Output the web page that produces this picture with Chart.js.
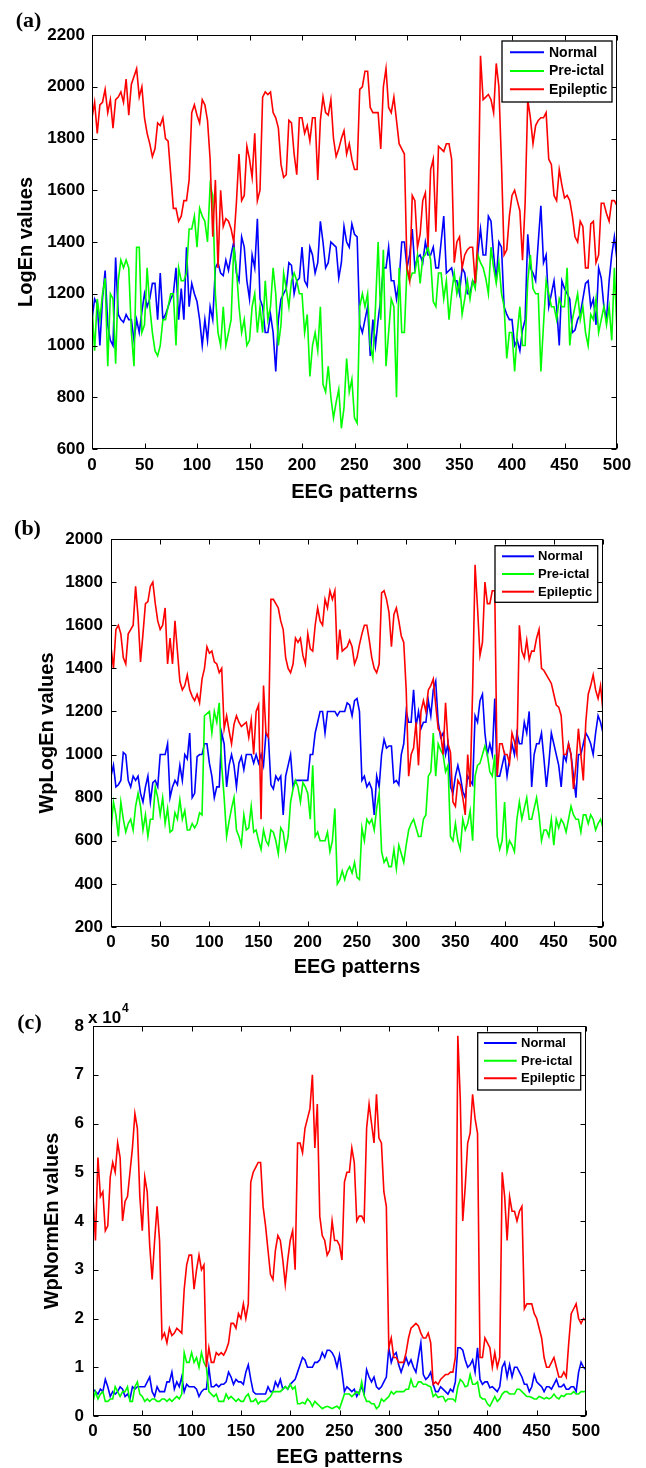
<!DOCTYPE html>
<html><head><meta charset="utf-8">
<script src="https://cdn.jsdelivr.net/npm/chart.js@4.4.0/dist/chart.umd.min.js"></script>
<style>
html,body{margin:0;padding:0;background:#fff;}
body{width:646px;height:1468px;position:relative;overflow:hidden;}
.p{position:absolute;left:0;width:646px;}
canvas{display:block;}
</style></head><body>
<div class="p" style="top:0;height:505px"><canvas id="ca" width="646" height="505"></canvas></div>
<div class="p" style="top:505px;height:480px"><canvas id="cb" width="646" height="480"></canvas></div>
<div class="p" style="top:985px;height:483px"><canvas id="cc" width="646" height="483"></canvas></div>
<script>
// ---------- DATA ----------
const eegPatterns = [0,2.5,5,7.5,10,12.5,15,17.5,20,22.5,25,27.5,30,32.5,35,37.5,40,42.5,45,47.5,
50,52.5,55,57.5,60,62.5,65,67.5,70,72.5,75,77.5,80,82.5,85,87.5,90,92.5,95,97.5,
100,102.5,105,107.5,110,112.5,115,117.5,120,122.5,125,127.5,130,132.5,135,137.5,140,142.5,145,147.5,
150,152.5,155,157.5,160,162.5,165,167.5,170,172.5,175,177.5,180,182.5,185,187.5,190,192.5,195,197.5,
200,202.5,205,207.5,210,212.5,215,217.5,220,222.5,225,227.5,230,232.5,235,237.5,240,242.5,245,247.5,
250,252.5,255,257.5,260,262.5,265,267.5,270,272.5,275,277.5,280,282.5,285,287.5,290,292.5,295,297.5,
300,302.5,305,307.5,310,312.5,315,317.5,320,322.5,325,327.5,330,332.5,335,337.5,340,342.5,345,347.5,
350,352.5,355,357.5,360,362.5,365,367.5,370,372.5,375,377.5,380,382.5,385,387.5,390,392.5,395,397.5,
400,402.5,405,407.5,410,412.5,415,417.5,420,422.5,425,427.5,430,432.5,435,437.5,440,442.5,445,447.5,
450,452.5,455,457.5,460,462.5,465,467.5,470,472.5,475,477.5,480,482.5,485,487.5,490,492.5,495,497.5,
500];
const seriesNames = ['Normal','Pre-ictal','Epileptic'];
const xTicks = [0,50,100,150,200,250,300,350,400,450,500];

// (a) LogEn values
const logEnNormal = [1100,1180,1160,1000,1180,1290,1080,1020,1000,1340,1120,1100,1090,1120,1100,1100,1020,1100,1050,1130,
1200,1150,1180,1240,1240,1100,1280,1100,1120,1150,1180,1200,1300,1100,1220,1100,1380,1150,1240,1200,
1170,1100,1000,1100,1020,1150,1100,1300,1320,1280,1270,1330,1290,1350,1400,1280,1250,1420,1380,1250,
1180,1350,1300,1490,1180,1150,1050,1050,1120,1050,900,1100,1180,1200,1220,1320,1310,1200,1250,1260,
1380,1250,1230,1380,1350,1280,1320,1480,1400,1300,1320,1400,1390,1380,1260,1320,1460,1400,1380,1470,
1430,1420,1080,1050,1100,1150,960,1100,1000,1100,1180,1300,1300,1380,1250,1250,1180,1250,1400,1400,
1300,1350,1450,1300,1340,1350,1320,1400,1350,1350,1380,1300,1300,1400,1500,1280,1290,1300,1250,1250,
1200,1300,1280,1200,1200,1250,1240,1360,1450,1350,1350,1500,1480,1350,1250,1400,1380,1150,1120,1100,
1100,1000,1020,980,1060,1100,1430,1300,1280,1250,1400,1540,1320,1350,1150,1200,1250,1150,1000,1250,
1220,1200,1180,1050,1060,1100,1120,1180,1240,1250,1150,1180,1080,1300,1260,1150,1100,1250,1350,1420,
1330];
const logEnPreictal = [1150,980,1180,1100,1200,1260,920,1200,1180,930,1250,1330,1300,1330,1300,1050,920,1380,1380,1050,
1080,1300,1150,1050,980,960,1000,1100,1100,1150,1200,1200,1000,1300,1250,1250,1280,1450,1450,1500,
1380,1530,1500,1480,1400,1620,1580,1200,1050,1000,1150,1000,1050,1100,1380,1300,1150,1050,1100,1000,
1020,1150,1200,1050,1150,1050,1250,1100,1150,1300,1200,1000,1080,1280,1220,1150,1250,1280,1250,1200,
1200,1050,1120,880,1000,1050,980,1150,850,820,920,800,720,780,830,680,760,950,820,870,
720,700,1150,1200,1150,1200,1000,950,1150,1400,1100,1370,920,1050,1180,1150,800,1300,1050,1050,
1300,1250,1280,1280,1350,1240,1340,1350,1380,1330,1170,1150,1280,1280,1180,1250,1100,1200,1280,1200,
1250,1120,1180,1250,1180,1250,1220,1350,1320,1300,1260,1200,1380,1300,1240,1320,1200,1150,950,1050,
1050,900,1050,1150,1000,1000,1250,1350,1220,1200,1200,900,1080,1250,1200,1150,1150,1100,1180,1150,
1150,1300,1000,1100,1150,1200,1100,1150,1050,1000,1120,1100,1180,1050,1100,1150,1080,1150,1020,1300,
1050];
const logEnEpileptic = [1880,1940,1820,1930,1940,1990,1900,1950,1840,1950,1960,1980,1940,2030,1890,2010,2040,2070,1960,2000,
1880,1820,1780,1730,1760,1860,1850,1880,1800,1790,1660,1530,1530,1480,1500,1560,1560,1640,1900,1930,
1890,1860,1950,1930,1870,1720,1420,1640,1300,1600,1460,1490,1480,1450,1400,1550,1740,1560,1580,1770,
1720,1650,1820,1560,1600,1960,1980,1970,1980,1900,1880,1840,1700,1650,1660,1870,1860,1740,1660,1880,
1880,1820,1850,1790,1880,1880,1640,1870,1960,1900,1890,1950,1800,1730,1760,1800,1830,1740,1780,1720,
1680,1680,1990,2000,2060,2060,1920,1900,1900,1900,1760,2000,2070,1920,1900,1960,1870,1780,1760,1740,
1300,1250,1580,1560,1380,1430,1560,1590,1380,1680,1720,1440,1770,1760,1750,1780,1780,1720,1320,1400,
1420,1300,1350,1370,1380,1380,1240,1420,2120,1950,1960,1970,1950,1900,2090,2000,1700,1350,1370,1500,
1580,1600,1560,1520,1330,1550,1950,1880,1780,1850,1870,1880,1880,1900,1720,1700,1580,1560,1680,1620,
1570,1580,1560,1500,1420,1400,1480,1460,1300,1300,1470,1480,1320,1350,1550,1550,1510,1480,1560,1560,
1540];
const logEnYTicks = [600,800,1000,1200,1400,1600,1800,2000,2200];

// (b) WpLogEn values
const wpLogEnNormal = [900,950,850,860,880,1010,1000,880,850,900,880,900,820,780,850,900,780,870,880,850,
1000,1000,1000,1050,800,850,880,860,950,880,1000,980,1100,800,820,990,1000,1000,1050,1050,
960,900,800,850,850,1100,1050,850,950,1000,950,850,960,990,930,1000,1000,1000,960,1000,
960,1000,950,1100,1080,860,840,900,880,900,720,900,950,1000,850,880,880,880,880,880,
880,1000,1000,1100,1150,1200,1200,1100,1200,1200,1200,1200,1180,1200,1200,1200,1240,1230,1180,1250,
1260,1200,880,900,850,870,840,720,900,850,1000,1070,1030,1040,1040,870,880,860,1000,1050,
1200,1150,1150,1300,1130,1200,1120,1150,1150,1250,1180,1300,1340,1150,1080,1100,1000,1050,850,820,
900,950,900,830,800,900,880,860,1180,1150,1250,1280,1100,1000,1050,1000,1260,900,900,950,
1000,900,980,1050,1000,1100,1050,1050,1150,1100,1200,850,1000,1050,1050,1100,980,850,960,1100,
1050,1000,950,850,1000,970,1050,1000,900,800,1000,1000,1050,1100,1080,1050,1000,1100,1180,1150,
1100];
const wpLogEnPreictal = [650,780,720,620,780,700,640,680,700,650,760,820,760,650,720,620,700,700,850,800,
720,800,680,750,640,650,730,700,790,700,740,650,650,680,660,680,730,720,1180,1190,
1200,1100,1200,1150,1240,950,800,620,690,750,800,650,620,580,720,650,660,760,640,650,
600,560,650,600,580,650,640,600,540,660,640,560,620,780,840,880,850,780,870,850,
820,700,950,620,640,600,600,600,640,550,600,750,400,420,460,420,460,480,450,500,
430,420,660,600,700,680,700,650,750,820,550,500,520,480,480,560,470,580,540,500,
580,650,680,700,660,620,620,700,720,900,920,1100,900,1050,1020,1000,920,950,620,600,
680,600,560,700,650,680,740,600,900,950,960,1000,1040,1000,920,900,1000,620,560,600,
780,550,600,580,550,700,780,700,750,800,700,700,750,800,720,600,650,650,620,700,
580,700,660,700,680,640,700,760,720,700,700,640,720,720,680,720,700,650,680,700,
660];
const wpLogEnEpileptic = [1500,1400,1580,1600,1560,1450,1420,1560,1580,1600,1780,1640,1430,1560,1700,1710,1780,1800,1700,1620,
1580,1600,1680,1420,1540,1420,1620,1480,1340,1300,1320,1370,1300,1270,1250,1280,1240,1350,1400,1500,
1470,1480,1430,1420,1380,1400,1120,1180,1110,1050,1140,1180,1150,1130,1140,1150,1080,1160,1000,1200,
1230,700,1320,1100,1080,1720,1720,1700,1680,1620,1580,1450,1400,1380,1420,1540,1520,1540,1460,1420,
1560,1490,1480,1600,1680,1620,1600,1720,1680,1760,1720,1760,1440,1580,1480,1490,1500,1530,1500,1420,
1450,1510,1560,1600,1600,1530,1450,1400,1380,1420,1750,1760,1720,1660,1500,1650,1680,1620,1550,1520,
1300,900,1000,1030,1150,950,1200,1250,1200,1300,1320,1350,1230,1120,1100,1000,1240,1050,1010,780,
760,880,860,800,720,1000,850,1300,1880,1680,1460,1520,1800,1700,1700,1760,1760,900,1050,1050,
1000,1000,960,1100,1060,1000,1600,1480,1450,1530,1440,1480,1480,1540,1580,1400,1390,1370,1350,1330,
1280,1230,1220,1180,1000,1000,1050,1000,840,950,1120,1000,880,1150,1280,1320,1370,1300,1260,1320,
1200];
const wpLogEnYTicks = [200,400,600,800,1000,1200,1400,1600,1800,2000];

// (c) WpNormEn values, in units of 10^4 (as on the axis)
const wpNormEnNormal = [0.55,0.5,0.45,0.55,0.5,0.75,0.6,0.4,0.5,0.45,0.5,0.6,0.55,0.4,0.45,0.35,0.6,0.55,0.6,0.6,
0.6,0.6,0.7,0.8,0.5,0.4,0.6,0.5,0.5,0.5,0.7,0.7,0.9,0.55,0.7,0.6,0.8,0.5,0.65,0.6,
0.6,0.6,0.55,0.4,0.5,0.55,0.55,1.0,0.6,0.6,0.65,0.6,0.65,0.65,0.7,0.9,0.8,0.65,0.75,0.7,
0.7,0.65,0.9,1.05,0.75,0.5,0.45,0.45,0.45,0.45,0.45,0.6,0.5,0.5,0.7,0.6,0.75,0.55,0.6,0.55,
0.65,0.7,0.75,0.9,1.05,1.2,1.15,1.0,1.0,1.0,1.1,1.1,1.15,1.3,1.2,1.35,1.35,1.3,1.2,1.0,
1.25,0.9,0.5,0.6,0.55,0.5,0.55,0.4,0.5,0.6,0.45,0.95,0.8,0.7,0.8,0.6,0.55,0.6,0.7,0.8,
1.4,1.1,1.25,1.3,1.05,0.9,1.05,1.2,1.05,1.15,1.0,0.9,1.2,1.5,0.85,0.75,0.8,0.9,0.65,0.5,
0.5,0.6,0.55,0.5,0.45,0.55,0.5,0.7,1.4,1.4,1.35,1.15,1.0,1.05,1.15,0.9,1.4,0.75,0.65,0.7,
0.7,0.58,0.6,0.55,0.5,0.6,1.0,1.1,0.8,1.05,0.8,1.0,1.0,0.9,0.8,0.65,0.65,0.5,0.6,0.85,
0.7,0.65,0.6,0.5,0.6,0.6,0.55,0.65,0.75,0.6,0.6,0.65,0.55,0.55,0.6,0.6,0.5,0.9,1.1,1.0,
0.95];
const wpNormEnPreictal = [0.3,0.5,0.35,0.45,0.5,0.3,0.3,0.35,0.35,0.6,0.5,0.4,0.5,0.5,0.6,0.3,0.3,0.6,0.7,0.45,
0.4,0.3,0.35,0.3,0.35,0.35,0.3,0.3,0.35,0.35,0.3,0.35,0.3,0.35,0.4,0.35,0.45,1.3,1.1,1.1,
1.3,1.1,1.2,1.0,1.3,1.1,1.0,0.5,0.45,0.4,0.45,0.3,0.3,0.3,0.45,0.35,0.4,0.35,0.3,0.35,
0.3,0.3,0.4,0.45,0.3,0.3,0.35,0.25,0.3,0.3,0.3,0.35,0.4,0.5,0.5,0.5,0.5,0.55,0.6,0.55,
0.65,0.55,0.6,0.25,0.25,0.28,0.25,0.35,0.3,0.2,0.3,0.25,0.2,0.15,0.18,0.2,0.18,0.15,0.18,0.2,
0.15,0.3,0.45,0.45,0.45,0.4,0.45,0.5,0.45,0.7,0.42,0.3,0.3,0.25,0.25,0.15,0.2,0.35,0.3,0.35,
0.4,0.5,0.45,0.5,0.5,0.5,0.5,0.55,0.55,0.75,0.6,0.6,0.7,0.7,0.65,0.65,0.62,0.6,0.4,0.45,
0.38,0.4,0.4,0.3,0.35,0.35,0.35,0.3,0.6,0.75,0.7,0.6,0.62,0.85,0.65,0.65,0.7,0.4,0.35,0.35,
0.25,0.2,0.3,0.4,0.3,0.35,0.45,0.5,0.5,0.45,0.45,0.45,0.55,0.55,0.5,0.45,0.4,0.4,0.38,0.35,
0.35,0.4,0.38,0.35,0.38,0.35,0.38,0.45,0.38,0.35,0.42,0.4,0.45,0.45,0.45,0.5,0.45,0.45,0.5,0.5,
0.5];
const wpNormEnEpileptic = [4.5,3.6,5.3,4.5,4.6,3.8,3.9,4.9,5.2,5.0,5.6,5.3,4.0,4.4,4.5,5.0,5.5,6.2,5.9,4.5,
3.8,4.9,4.6,3.5,2.8,3.6,4.3,3.6,1.6,1.7,1.5,1.8,1.65,1.7,1.8,1.75,1.7,2.6,3.1,3.3,
3.3,2.6,3.0,3.3,3.0,3.1,1.0,1.4,1.1,1.1,1.3,1.25,1.3,1.25,1.35,1.5,1.9,1.9,1.8,2.1,
2.0,2.3,2.0,2.3,4.8,5.0,5.1,5.2,5.2,4.3,3.9,3.4,2.9,2.8,3.4,3.7,3.6,3.2,2.7,3.2,
3.6,3.8,3.0,5.6,5.6,5.4,5.9,6.1,6.3,7.0,5.5,6.4,4.1,3.7,3.6,3.3,3.4,4.0,3.6,3.6,
3.5,3.2,4.8,5.0,5.0,5.5,5.2,4.0,4.1,4.1,4.0,5.9,6.4,6.0,5.6,6.6,5.7,5.6,4.6,4.3,
1.4,1.6,1.2,1.2,1.1,1.1,1.1,1.3,1.6,1.8,1.85,1.9,1.85,1.7,1.6,1.6,1.7,1.5,0.65,0.7,
0.65,0.75,0.8,0.85,0.85,0.9,0.9,1.2,7.8,6.5,4.0,4.7,5.6,5.8,6.6,6.1,5.8,1.2,1.2,1.6,
1.5,1.4,1.0,1.3,1.0,1.2,5.0,4.5,3.6,4.5,4.2,4.2,4.0,4.2,4.3,2.2,2.3,2.3,2.3,2.1,
2.0,1.8,1.6,1.2,1.0,1.0,1.1,1.2,1.0,0.8,0.8,0.9,0.8,1.5,2.1,2.2,2.3,2.0,1.9,2.0,
1.95];
const wpNormEnYTicks = [0,1,2,3,4,5,6,7,8];

// ---------- STYLE ----------
const COLORS = ['#0000ff','#00ff00','#ff0000'];
const SANS = '"Liberation Sans", Arial, Helvetica, sans-serif';
const SERIF = '"Liberation Serif", "Times New Roman", serif';

const framePlugin = {
  id: 'frame',
  afterDatasetsDraw(chart, args, o) {
    const {ctx, chartArea: a, scales} = chart;
    const L = Math.round(a.left) + 0.5, T = Math.round(a.top) + 0.5;
    const R = Math.round(a.right) - 0.5, B = Math.round(a.bottom) - 0.5;
    ctx.save();
    ctx.strokeStyle = '#000'; ctx.lineWidth = 1;
    ctx.beginPath();
    const tl = 5;
    scales.x.ticks.forEach(t => {
      const px = Math.round(scales.x.getPixelForValue(t.value)) + 0.5;
      ctx.moveTo(px, B); ctx.lineTo(px, B - tl);
      ctx.moveTo(px, T); ctx.lineTo(px, T + tl);
    });
    scales.y.ticks.forEach(t => {
      const py = Math.round(scales.y.getPixelForValue(t.value)) + 0.5;
      ctx.moveTo(L, py); ctx.lineTo(L + tl, py);
      ctx.moveTo(R, py); ctx.lineTo(R - tl, py);
    });
    ctx.stroke();
    ctx.strokeRect(L, T, R - L, B - T);

    // legend
    const lg = o.legend;
    ctx.fillStyle = '#fff';
    ctx.fillRect(lg.box[0], lg.box[1], lg.box[2] - lg.box[0], lg.box[3] - lg.box[1]);
    ctx.strokeStyle = '#000'; ctx.lineWidth = 1.3;
    ctx.strokeRect(lg.box[0], lg.box[1], lg.box[2] - lg.box[0], lg.box[3] - lg.box[1]);
    ctx.font = 'bold ' + lg.font + 'px ' + SANS;
    ctx.textBaseline = 'middle'; ctx.textAlign = 'left';
    seriesNames.forEach((name, i) => {
      ctx.strokeStyle = COLORS[i]; ctx.lineWidth = 2;
      ctx.beginPath(); ctx.moveTo(lg.line[0], lg.rows[i]); ctx.lineTo(lg.line[1], lg.rows[i]); ctx.stroke();
      ctx.fillStyle = '#000';
      ctx.fillText(name, lg.textX, lg.rows[i] + 0.5);
    });

    // panel label
    ctx.font = 'bold 22px ' + SERIF;
    ctx.textAlign = 'center'; ctx.textBaseline = 'middle'; ctx.fillStyle = '#000';
    ctx.fillText(o.label.text, o.label.x, o.label.y);

    if (o.exponent) {
      ctx.font = 'bold 17px ' + SANS; ctx.textAlign = 'left'; ctx.textBaseline = 'alphabetic';
      ctx.fillText('x 10', o.exponent.x, o.exponent.y);
      const w = ctx.measureText('x 10').width;
      ctx.font = 'bold 12px ' + SANS;
      ctx.fillText('4', o.exponent.x + w + 1, o.exponent.y - 11);
    }
    ctx.restore();
  }
};

function makeChart(id, cfg) {
  const datasets = cfg.series.map((vals, i) => ({
    label: seriesNames[i],
    data: vals,
    borderColor: COLORS[i],
    backgroundColor: COLORS[i],
    borderWidth: 1.6,
    pointRadius: 0,
    tension: 0,
    fill: false,
    order: 3 - i
  }));
  return new Chart(document.getElementById(id), {
    type: 'line',
    data: { labels: eegPatterns, datasets },
    plugins: [framePlugin],
    options: {
      responsive: false,
      animation: false,
      events: [],
      layout: { padding: { left: 0, top: cfg.padTop, right: cfg.padRight, bottom: 0 } },
      plugins: {
        legend: { display: false },
        tooltip: { enabled: false },
        frame: { legend: cfg.legend, label: cfg.label, exponent: cfg.exponent || null }
      },
      scales: {
        x: {
          type: 'linear', min: 0, max: 500,
          afterBuildTicks: s => { s.ticks = xTicks.map(v => ({ value: v })); },
          afterFit: s => { s.height = cfg.xH; },
          grid: { display: false, drawTicks: false },
          border: { display: false },
          ticks: { padding: cfg.xTickPad, color: '#000', maxRotation: 0, autoSkip: false,
                   font: { family: SANS, size: 17, weight: 'bold' } },
          title: { display: true, text: 'EEG patterns', color: '#000',
                   padding: { top: 0, bottom: cfg.xTitlePad },
                   font: { family: SANS, size: 20, weight: 'bold', lineHeight: 1 } }
        },
        y: {
          type: 'linear', min: cfg.yTicks[0], max: cfg.yTicks[cfg.yTicks.length - 1],
          afterBuildTicks: s => { s.ticks = cfg.yTicks.map(v => ({ value: v })); },
          afterFit: s => { s.width = cfg.yW; },
          grid: { display: false, drawTicks: false },
          border: { display: false },
          ticks: { padding: cfg.yTickPad, color: '#000', autoSkip: false,
                   callback: v => String(v),
                   font: { family: SANS, size: 17, weight: 'bold' } },
          title: { display: true, text: cfg.yTitle, color: '#000',
                   padding: { top: cfg.yTitlePad, bottom: 0 },
                   font: { family: SANS, size: 20, weight: 'bold', lineHeight: 1 } }
        }
      }
    }
  });
}

makeChart('ca', {
  series: [logEnNormal, logEnPreictal, logEnEpileptic], yTicks: logEnYTicks, yTitle: 'LogEn values',
  padTop: 35, padRight: 29, yW: 92, xH: 56, yTitlePad: 16, xTitlePad: 3, yTickPad: 7, xTickPad: 6,
  legend: { box: [502, 41, 612, 102], line: [510, 544], rows: [52.3, 71, 89.3], textX: 549, font: 14 },
  label: { text: '(a)', x: 28.5, y: 21 }
});
makeChart('cb', {
  series: [wpLogEnNormal, wpLogEnPreictal, wpLogEnEpileptic], yTicks: wpLogEnYTicks, yTitle: 'WpLogEn values',
  padTop: 34, padRight: 43, yW: 111, xH: 58, yTitlePad: 37, xTitlePad: 8, yTickPad: 8, xTickPad: 5,
  legend: { box: [495, 40.7, 597.7, 97.3], line: [502, 534], rows: [51.3, 69, 86.7], textX: 538, font: 13 },
  label: { text: '(b)', x: 27.5, y: 24 }
});
makeChart('cc', {
  series: [wpNormEnNormal, wpNormEnPreictal, wpNormEnEpileptic], yTicks: wpNormEnYTicks, yTitle: 'WpNormEn values',
  padTop: 41, padRight: 60, yW: 93, xH: 52, yTitlePad: 42, xTitlePad: 1, yTickPad: 9, xTickPad: 5,
  legend: { box: [477.7, 47.7, 580.7, 105], line: [484, 516.7], rows: [58, 75.7, 93.3], textX: 521, font: 13 },
  label: { text: '(c)', x: 29.5, y: 38 },
  exponent: { x: 88, y: 38 }
});
</script>
</body></html>
